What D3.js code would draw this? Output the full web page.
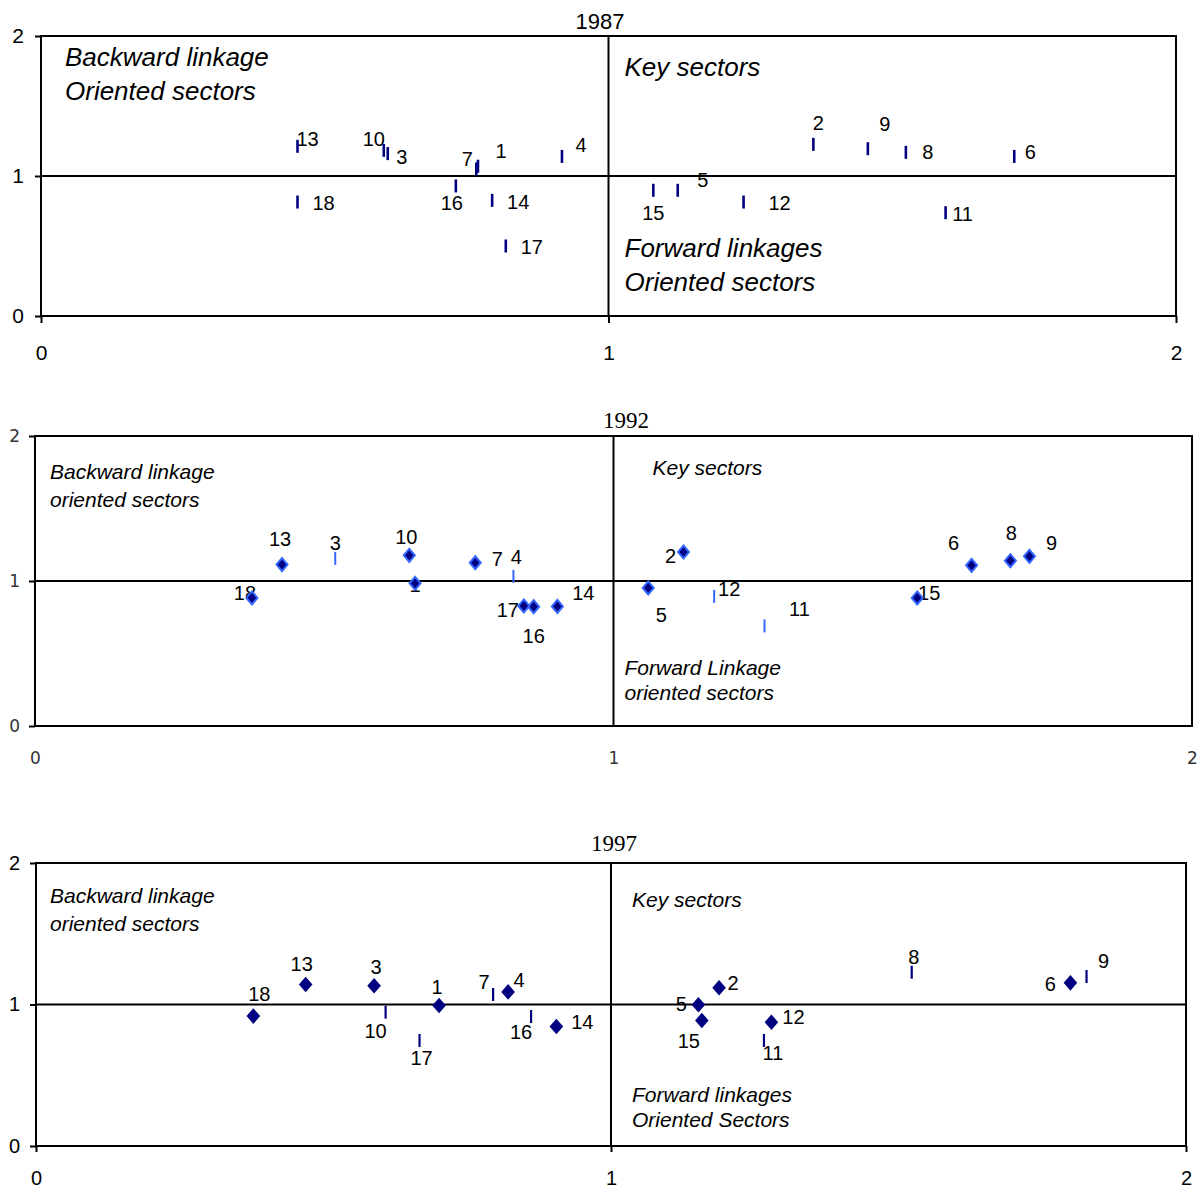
<!DOCTYPE html>
<html>
<head>
<meta charset="utf-8">
<script src="https://cdnjs.cloudflare.com/ajax/libs/d3/7.8.5/d3.min.js"></script>
<style>
  html, body { margin: 0; padding: 0; background: #fff; }
  svg { display: block; }
</style>
</head>
<body>
<svg id="chart" width="1203" height="1188"></svg>
<script>
// ---------- DATA ----------
const sectors = [1,2,3,4,5,6,7,8,9,10,11,12,13,14,15,16,17,18];
const axisTicks = [0, 1, 2];
const tickLabels = ["0", "1", "2"];

// 1987 (all one series: dash markers)
const x1987 = [0.770,1.361,0.611,0.918,1.122,1.715,0.767,1.524,1.457,0.604,1.594,1.238,0.452,0.795,1.079,0.731,0.819,0.452];
const y1987 = [1.070,1.226,1.160,1.140,0.898,1.140,1.050,1.169,1.195,1.183,0.738,0.814,1.212,0.826,0.898,0.929,0.500,0.814];
const series1987 = ["A","A","A","A","A","A","A","A","A","A","A","A","A","A","A","A","A","A"];

// 1992 (A = dash series, B = diamond series)
const x1992 = [0.657,1.121,0.519,0.827,1.060,1.619,0.761,1.686,1.719,0.647,1.261,1.174,0.427,0.903,1.525,0.862,0.845,0.375];
const y1992 = [0.984,1.200,1.156,1.032,0.952,1.108,1.126,1.140,1.170,1.177,0.690,0.894,1.113,0.825,0.883,0.823,0.828,0.883];
const series1992 = ["B","B","A","A","B","B","B","B","B","B","A","A","B","B","B","B","B","B"];

// 1997
const x1997 = [0.701,1.188,0.588,0.821,1.152,1.799,0.795,1.523,1.827,0.608,1.266,1.279,0.469,0.905,1.158,0.861,0.667,0.378];
const y1997 = [0.993,1.118,1.132,1.089,0.998,1.153,1.071,1.228,1.198,0.946,0.746,0.875,1.141,0.845,0.887,0.915,0.746,0.918];
const series1997 = ["B","B","B","B","B","B","A","A","A","A","A","B","B","B","B","A","A","B"];

const titles = ["1987", "1992", "1997"];
const quadrantText1987 = [["Backward linkage","Oriented sectors"],["Key sectors"],["Forward linkages","Oriented sectors"]];
const quadrantText1992 = [["Backward linkage","oriented sectors"],["Key sectors"],["Forward Linkage","oriented sectors"]];
const quadrantText1997 = [["Backward linkage","oriented sectors"],["Key sectors"],["Forward linkages","Oriented Sectors"]];

// ---------- LAYOUT (label offsets in px) ----------
const labelDx1987 = [23,5,14,19,25,16,-9,22,17,-10,17,36,10,26,0,-4,26,26];
const labelDy1987 = [-15,-21,3,-11,-10,-4,-10,0,-25,-11,1,1,-7,2,23,17,1,1];
const labelDx1992 = [0,-13,0,3,13,-18,22,1,22,-3,35,15,-2,26,12,0,-16,-7];
const labelDy1992 = [2,4,-15,-19,27,-22,-4,-28,-13,-18,-17,-7,-26,-13,-5,29,4,-5];
const labelDx1997 = [-2,14,2,11,-17,-20,-9,2,17,-10,9,22,-4,26,-13,-10,2,6];
const labelDy1997 = [-18,-5,-19,-12,-1,1,-12,-15,-15,19,13,-5,-21,-4,21,15,18,-22];

const svg = d3.select("#chart");
const SANS = "'Liberation Sans', Arial, sans-serif";
const SERIF = "'Liberation Serif', 'Times New Roman', serif";

const panels = [
  {
    title: titles[0], xs: x1987, ys: y1987, series: series1987, ldx: labelDx1987, ldy: labelDy1987,
    quad: quadrantText1987,
    x0: 41, x1: 1176, yTop: 36, yBot: 316,
    titleX: 600, titleY: 29, titleFont: SANS, titleSize: 22,
    leftFont: SANS, leftSize: 21, leftPad: 11, leftColor: "#000",
    botFont: SANS, botSize: 21, botTick: 7, botPad: 22, botColor: "#000",
    labelSize: 20,
    quadSize: 26,
    quadPos: [[24, 30, 34], [16, 40, 0], [16, 221, 34]],
    dash: { color: "#000080", width: 2.6, half: 6.5 },
    diamond: null
  },
  {
    title: titles[1], xs: x1992, ys: y1992, series: series1992, ldx: labelDx1992, ldy: labelDy1992,
    quad: quadrantText1992,
    x0: 35, x1: 1192, yTop: 436, yBot: 726,
    titleX: 626, titleY: 428, titleFont: SERIF, titleSize: 23,
    leftFont: "'DejaVu Sans', sans-serif", leftSize: 17, leftPad: 9, leftColor: "#333",
    botFont: "'DejaVu Sans', sans-serif", botSize: 17, botTick: 0, botPad: 26, botColor: "#333",
    labelSize: 20,
    quadSize: 21,
    quadPos: [[15, 43, 28], [39, 39, 0], [11, 239, 25]],
    dash: { color: "#3366ff", width: 2, half: 6.5 },
    diamond: { fill: "#000080", stroke: "#3366ff", sw: 2, w: 5.5, h: 6.5 }
  },
  {
    title: titles[2], xs: x1997, ys: y1997, series: series1997, ldx: labelDx1997, ldy: labelDy1997,
    quad: quadrantText1997,
    x0: 36, x1: 1186, yTop: 863, yBot: 1146,
    titleX: 614, titleY: 851, titleFont: SERIF, titleSize: 23,
    leftFont: SANS, leftSize: 20, leftPad: 10, leftColor: "#000",
    botFont: SANS, botSize: 20, botTick: 6, botPad: 19, botColor: "#000",
    labelSize: 20,
    quadSize: 21,
    quadPos: [[14, 40, 28], [21, 44, 0], [21, 239, 25]],
    dash: { color: "#000080", width: 2.2, half: 6.5 },
    diamond: { fill: "#000080", stroke: "none", sw: 0, w: 6.8, h: 7.8 }
  }
];

panels.forEach(p => {
  const x = d3.scaleLinear().domain([0, 2]).range([p.x0, p.x1]);
  const y = d3.scaleLinear().domain([0, 2]).range([p.yBot, p.yTop]);
  const g = svg.append("g");

  // title
  g.append("text")
    .attr("x", p.titleX).attr("y", p.titleY)
    .attr("text-anchor", "middle")
    .style("font-family", p.titleFont).style("font-size", p.titleSize + "px")
    .attr("fill", "#000")
    .text(p.title);

  // frame
  g.append("rect")
    .attr("x", x(0)).attr("y", y(2))
    .attr("width", x(2) - x(0)).attr("height", y(0) - y(2))
    .attr("fill", "none").attr("stroke", "#000").attr("stroke-width", 2);
  // quadrant lines
  g.append("line")
    .attr("x1", x(0)).attr("x2", x(2)).attr("y1", y(1)).attr("y2", y(1))
    .attr("stroke", "#000").attr("stroke-width", 2);
  g.append("line")
    .attr("x1", x(1)).attr("x2", x(1)).attr("y1", y(0)).attr("y2", y(2))
    .attr("stroke", "#000").attr("stroke-width", 2);

  // axes
  const ay = g.append("g").attr("transform", `translate(${x(0)},0)`)
    .call(d3.axisLeft(y).tickValues(axisTicks).tickFormat((d, i) => tickLabels[i])
      .tickSize(6).tickPadding(p.leftPad));
  ay.select(".domain").remove();
  ay.selectAll("line").attr("stroke", "#000").attr("stroke-width", 2);
  ay.selectAll("text").style("font-family", p.leftFont).style("font-size", p.leftSize + "px").attr("fill", p.leftColor);

  const ax = g.append("g").attr("transform", `translate(0,${y(0)})`)
    .call(d3.axisBottom(x).tickValues(axisTicks).tickFormat((d, i) => tickLabels[i])
      .tickSize(p.botTick).tickPadding(p.botPad));
  ax.select(".domain").remove();
  ax.selectAll("line").attr("stroke", "#000").attr("stroke-width", 2);
  ax.selectAll("text").style("font-family", p.botFont).style("font-size", p.botSize + "px").attr("fill", p.botColor);

  // quadrant annotation texts (offsets from the top-left of the frame / x=1 line)
  const qx = [x(0), x(1), x(1)];
  p.quad.forEach((lines, qi) => {
    const [dx, dy, gap] = p.quadPos[qi];
    lines.forEach((t, li) => {
      g.append("text")
        .attr("x", qx[qi] + dx)
        .attr("y", y(2) + dy + li * gap)
        .style("font-family", SANS).style("font-style", "italic")
        .style("font-size", p.quadSize + "px")
        .attr("fill", "#000")
        .text(t);
    });
  });

  const pts = sectors.map((s, i) => ({ id: s, vx: p.xs[i], vy: p.ys[i], s: p.series[i], dx: p.ldx[i], dy: p.ldy[i] }));

  // labels (under markers)
  g.append("g").selectAll("text").data(pts).join("text")
    .attr("x", d => x(d.vx) + d.dx)
    .attr("y", d => y(d.vy) + d.dy)
    .attr("text-anchor", "middle")
    .attr("dominant-baseline", "central")
    .style("font-family", SANS).style("font-size", p.labelSize + "px")
    .attr("fill", "#000")
    .text(d => d.id);

  // dash markers
  g.append("g").selectAll("line").data(pts.filter(d => d.s === "A")).join("line")
    .attr("x1", d => x(d.vx)).attr("x2", d => x(d.vx))
    .attr("y1", d => y(d.vy) - p.dash.half).attr("y2", d => y(d.vy) + p.dash.half)
    .attr("stroke", p.dash.color).attr("stroke-width", p.dash.width);

  // diamond markers
  if (p.diamond) {
    const dm = p.diamond;
    g.append("g").selectAll("path").data(pts.filter(d => d.s === "B")).join("path")
      .attr("transform", d => `translate(${x(d.vx)},${y(d.vy)})`)
      .attr("d", `M0,${-dm.h}L${dm.w},0L0,${dm.h}L${-dm.w},0Z`)
      .attr("fill", dm.fill)
      .attr("stroke", dm.stroke).attr("stroke-width", dm.sw);
  }
});
</script>
</body>
</html>
